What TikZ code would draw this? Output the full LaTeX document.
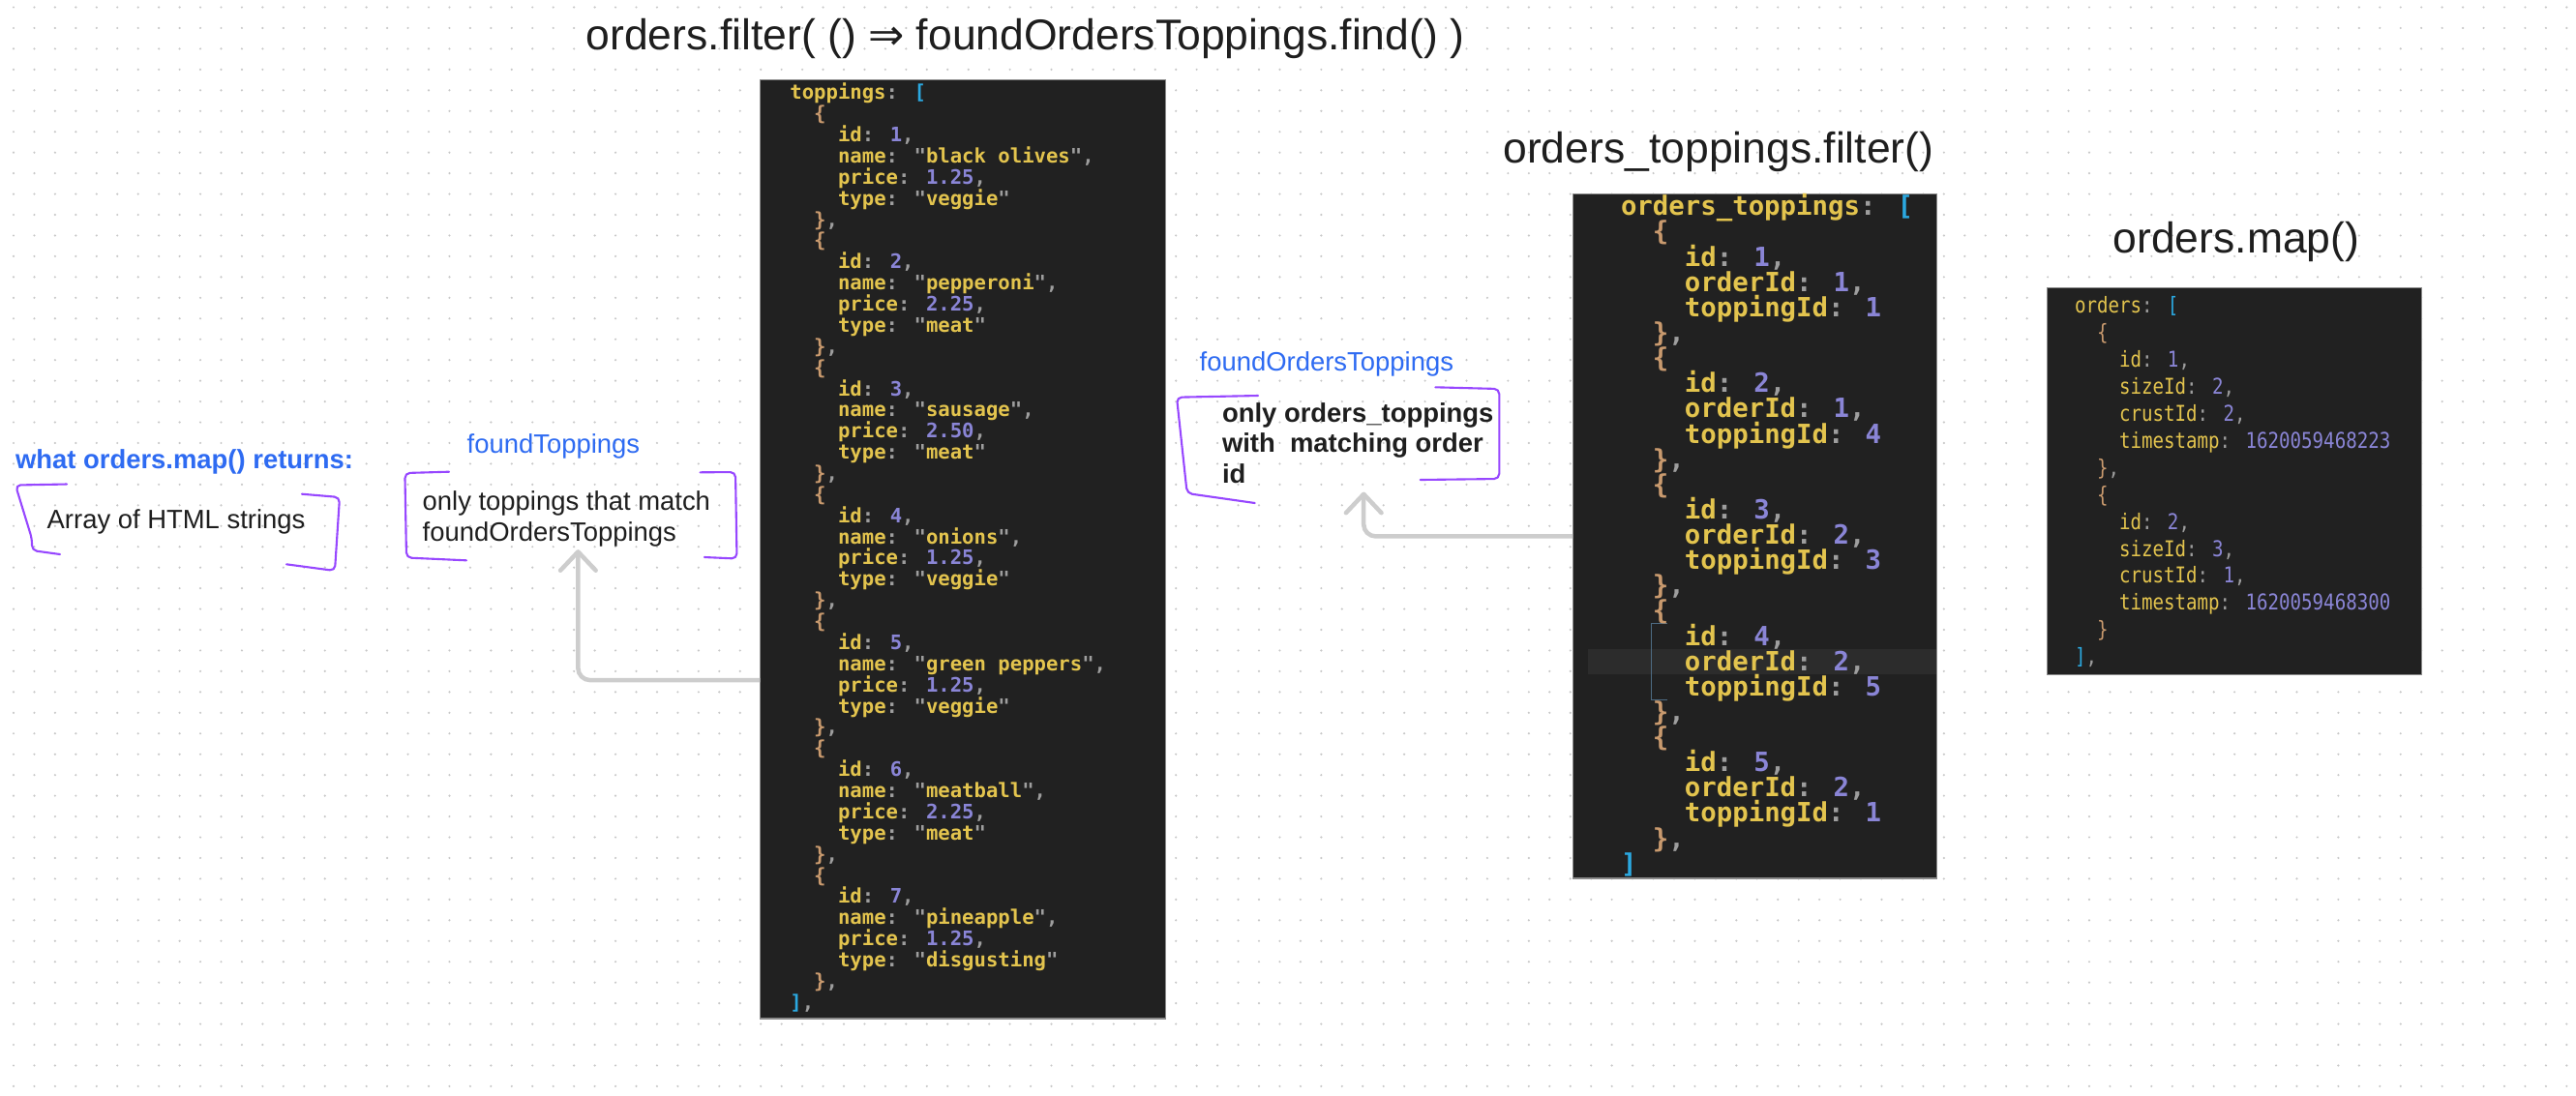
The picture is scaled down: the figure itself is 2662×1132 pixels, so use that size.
\documentclass[tikz,border=0pt]{standalone}
\usepackage{fontspec}
\setmainfont{Liberation Sans}
\newfontfamily\codefont{DejaVu Sans Mono}
\newfontfamily\orderfont[FakeStretch=0.85]{DejaVu Sans Mono}
\newfontfamily\symfont{DejaVu Sans}
\usepackage{tikz}
\usetikzlibrary{arrows.meta,positioning}
\definecolor{ink}{HTML}{1E1E1E}
\definecolor{inkblue}{HTML}{2E6BF2}
\definecolor{pen}{HTML}{9747FF}
\definecolor{editor}{HTML}{212121}
\definecolor{edge}{HTML}{8A8A8A}
\definecolor{edline}{HTML}{2C2C2C}
\definecolor{guide}{HTML}{4D6B82}
\definecolor{jskey}{HTML}{E3C44E}
\definecolor{jsnum}{HTML}{8A85D6}
\definecolor{jsbrace}{HTML}{C99A6E}
\definecolor{jsbrack}{HTML}{2BA8E0}
\definecolor{jspunct}{HTML}{9E9E9E}
\definecolor{connector}{HTML}{CDCDCD}
\definecolor{dotgrid}{HTML}{C8C8C8}
\lineskiplimit=-\maxdimen

% code colouring
\newcommand\jkey[1]{\textcolor{jskey}{#1}\textcolor{jspunct}{:}}
\newcommand\jnum[1]{\textcolor{jsnum}{#1}}
\newcommand\jstr[1]{\textcolor{jspunct}{"}\textcolor{jskey}{#1}\textcolor{jspunct}{"}}
\newcommand\jc{\textcolor{jspunct}{,}}
\newcommand\jo{\textcolor{jsbrace}{\{}}
\newcommand\jcl{\textcolor{jsbrace}{\}}}
\newcommand\jbr[1]{\textcolor{jsbrack}{#1}}
\newcommand\jt{\hspace*{2\fontcharwd\font`0}}

\newcommand\topping[4]{\jt\jo\\%
  \jt\jt\jkey{id} \jnum{#1}\jc\\%
  \jt\jt\jkey{name} \jstr{#2}\jc\\%
  \jt\jt\jkey{price} \jnum{#3}\jc\\%
  \jt\jt\jkey{type} \jstr{#4}\\%
  \jt\jcl\jc\\}
\newcommand\otrow[3]{\jt\jo\\%
  \jt\jt\jkey{id} \jnum{#1}\jc\\%
  \jt\jt\jkey{orderId} \jnum{#2}\jc\\%
  \jt\jt\jkey{toppingId} \jnum{#3}\\%
  \jt\jcl\jc\\}
\newcommand\orrow[5]{\jt\jo\\%
  \jt\jt\jkey{id} \jnum{#1}\jc\\%
  \jt\jt\jkey{sizeId} \jnum{#2}\jc\\%
  \jt\jt\jkey{crustId} \jnum{#3}\jc\\%
  \jt\jt\jkey{timestamp} \jnum{#4}\\%
  \jt\jcl#5\\}

\begin{document}
\begin{tikzpicture}[
  x=0.01cm, y=-0.01cm,
  title/.style={inner sep=0, anchor=base west, text=ink,
                font=\fontsize{12.65}{15}\selectfont},
  note/.style={inner sep=0, text=ink, font=\fontsize{7.8}{9}\selectfont},
  label/.style={note, text=inkblue},
  codebox/.style={draw=edge, line width=0.3pt, fill=editor, inner sep=0},
  code/.style={inner sep=0, anchor=north west, align=left},
  pen/.style={draw=pen, line width=0.6pt, line cap=round, line join=round,
              rounded corners=1.5pt},
  flow/.style={draw=connector, line width=1.28pt, rounded corners=3.5pt,
               -{Straight Barb[length=5.5pt,width=10.4pt,round]}}
]
\useasboundingbox (0,0) rectangle (2662,1132);
\fill[white] (0,0) rectangle (2662,1132);
\foreach \i in {0,...,123}{
  \fill[dotgrid] \foreach \j in {0,...,52}{({14+21.45*\i},{7.5+21.45*\j}) circle (0.34pt)};
}

% titles
\node[title] (filtertitle) at (605,51)
  {orders.filter( () {\symfont ⇒} foundOrdersToppings.find() )};
\node[title] (ottitle) at (1552.7,168.3) {orders\_toppings.filter()};
\node[title] (maptitle) at (2183,261.7) {orders.map()};

% editor panes
\node[codebox, minimum width=4.183cm, minimum height=9.70cm] (tpbox) at (995.2,567.7) {};
\node[codebox, minimum width=3.76cm, minimum height=7.067cm] (otbox) at (1813.7,554.4) {};
\node[codebox, minimum width=3.867cm, minimum height=3.997cm] (orbox) at (2309.4,497.2) {};
\fill[edline] (1640.7,671) rectangle (2001,696.7);
\draw[guide, line width=0.3pt] (1722.7,644.3) -- (1706.7,644.3) -- (1706.7,723.3) -- (1722.7,723.3);

\node[code, font=\codefont\bfseries\fontsize{5.86}{6.22}\selectfont] (tpcode) at (815.7,85.3)
  {\jkey{toppings} \jbr{[}\\
   \topping{1}{black olives}{1.25}{veggie}\topping{2}{pepperoni}{2.25}{meat}%
   \topping{3}{sausage}{2.50}{meat}\topping{4}{onions}{1.25}{veggie}%
   \topping{5}{green peppers}{1.25}{veggie}\topping{6}{meatball}{2.25}{meat}%
   \topping{7}{pineapple}{1.25}{disgusting}\jbr{]}\jc};
\node[code, font=\codefont\bfseries\fontsize{7.78}{7.43}\selectfont] (otcode) at (1674.3,199.9)
  {\jkey{orders\_toppings} \jbr{[}\\
   \otrow{1}{1}{1}\otrow{2}{1}{4}\otrow{3}{2}{3}\otrow{4}{2}{5}\otrow{5}{2}{1}\jbr{]}};
\node[code, font=\orderfont\fontsize{6.4}{7.95}\selectfont] (orcode) at (2143.3,305.6)
  {\jkey{orders} \jbr{[}\\
   \orrow{1}{2}{2}{1620059468223}{\jc}\orrow{2}{3}{1}{1620059468300}{}\jbr{]}\jc};

% notes
\node[label, anchor=base west, font=\bfseries\fontsize{7.8}{9}\selectfont] (maplabel) at (15.3,484)
  {what orders.map() returns:};
\node[note, anchor=base west] (htmlnote) at (48,546.7) {Array of HTML strings};
\node[label, anchor=base west] (ftlabel) at (482,468.3) {foundToppings};
\node[note, align=left, anchor=north west] (mtnote) at (436,507)
  {only toppings that match\\foundOrdersToppings};
\node[label, anchor=base west] (fotlabel) at (1239,383.3) {foundOrdersToppings};
\node[note, align=left, anchor=north west, font=\bfseries\fontsize{7.8}{9}\selectfont] (otnote) at (1262.3,415.7)
  {only orders\_toppings\\with\ \ matching order\\id};

% connectors
\draw[flow] ([yshift=-1.353cm]tpbox.west) -| ([xshift=0.12cm,yshift=-0.025cm]mtnote.south);
\draw[flow] (otbox.west) -| ([xshift=0.06cm,yshift=-0.08cm]otnote.south);

% hand-drawn brackets
\draw[pen] (69,500.5) -- (16,501.5) -- (33,557) -- (33,569) -- (62,573);
\draw[pen] (312,510.7) -- (351,514) -- (346,590) -- (296,583.3);
\draw[pen] (464,487.7) -- (418.4,489) -- (420,576.5) -- (482,579.3);
\draw[pen] (723.5,488.3) -- (760,488) -- (761.5,577.5) -- (728,576);
\draw[pen] (1300,409) -- (1216,410.7) -- (1226.7,510) -- (1296.7,520);
\draw[pen] (1483.3,400.3) -- (1549.3,402) -- (1549.3,495) -- (1467.7,496);
\end{tikzpicture}
\end{document}
